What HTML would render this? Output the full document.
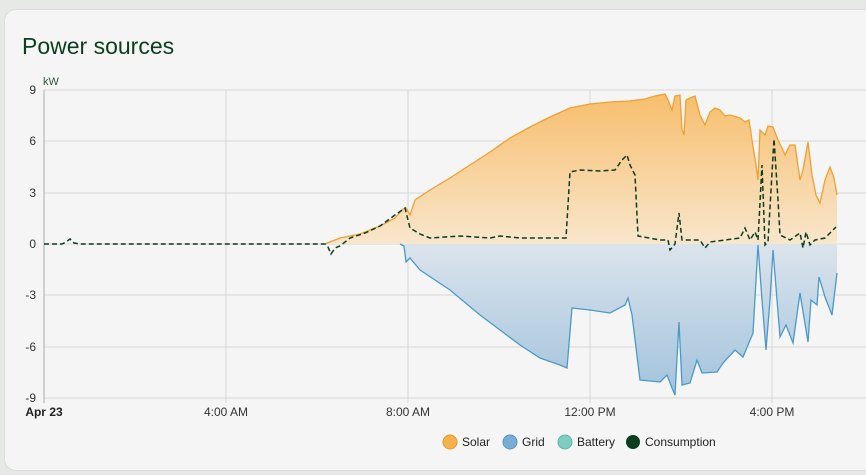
<!DOCTYPE html>
<html><head><style>
body{margin:0;background:#e6e9e6;width:866px;height:475px;overflow:hidden;font-family:"Liberation Sans",sans-serif}
.card{position:absolute;left:4px;top:9px;width:880px;height:460px;background:#f5f5f5;border-radius:12px;border:1px solid #dcdcdc}
</style></head><body>
<div class="card"></div>
<svg width="866" height="475" style="position:absolute;left:0;top:0" font-family="Liberation Sans, sans-serif">
<defs>
<linearGradient id="gs" x1="0" y1="90" x2="0" y2="244" gradientUnits="userSpaceOnUse"><stop offset="0" stop-color="#f7bd6a"/><stop offset="1" stop-color="#f8e6cc"/></linearGradient>
<linearGradient id="gg" x1="0" y1="244" x2="0" y2="398" gradientUnits="userSpaceOnUse"><stop offset="0" stop-color="#dbe4ec"/><stop offset="1" stop-color="#a1c2dc"/></linearGradient>
</defs>
<text x="22" y="54" font-size="23" fill="#0b3d1e">Power sources</text>
<text x="43" y="85" font-size="11" fill="#2d5a3a">kW</text>
<g stroke="#d6d6d6" stroke-width="1">
<line x1="44" y1="90" x2="866" y2="90"/><line x1="44" y1="141" x2="866" y2="141"/><line x1="44" y1="193" x2="866" y2="193"/><line x1="44" y1="244" x2="866" y2="244"/><line x1="44" y1="295" x2="866" y2="295"/><line x1="44" y1="347" x2="866" y2="347"/><line x1="44" y1="398" x2="866" y2="398"/>
<line x1="226" y1="90" x2="226" y2="403"/><line x1="408" y1="90" x2="408" y2="403"/><line x1="590" y1="90" x2="590" y2="403"/><line x1="772" y1="90" x2="772" y2="403"/>
</g>
<line x1="44" y1="90" x2="44" y2="403" stroke="#aaa"/>
<g font-size="12" fill="#333" text-anchor="end">
<text x="36" y="94">9</text><text x="36" y="145">6</text><text x="36" y="197">3</text><text x="36" y="248">0</text><text x="36" y="299">-3</text><text x="36" y="351">-6</text><text x="36" y="402">-9</text>
</g>
<g font-size="12" fill="#333" text-anchor="middle">
<text x="44" y="416" font-weight="bold" fill="#222">Apr 23</text><text x="226" y="416">4:00 AM</text><text x="408" y="416">8:00 AM</text><text x="590" y="416">12:00 PM</text><text x="772" y="416">4:00 PM</text>
</g>
<path d="M325,244 L340,238 360,234 380,226 395,218 403,209 406,208 410,215 415,200 430,190 450,178 470,165 490,152 510,138 530,127 550,117 570,108 590,104 610,102 630,101 645,99 655,96 665,94 668,100 672,110 675,96 680,95 682,130 684,135 686,100 690,98 695,96 700,115 705,125 710,112 715,108 720,110 725,116 730,115 740,118 745,122 749,120 752,140 756,165 758,180 760,130 765,135 768,126 773,127 778,140 782,148 785,155 790,145 795,145 800,180 803,170 808,142 812,175 816,195 820,203 825,180 830,167 834,178 837,195 L837,244 Z" fill="url(#gs)"/>
<path d="M325,244 L340,238 360,234 380,226 395,218 403,209 406,208 410,215 415,200 430,190 450,178 470,165 490,152 510,138 530,127 550,117 570,108 590,104 610,102 630,101 645,99 655,96 665,94 668,100 672,110 675,96 680,95 682,130 684,135 686,100 690,98 695,96 700,115 705,125 710,112 715,108 720,110 725,116 730,115 740,118 745,122 749,120 752,140 756,165 758,180 760,130 765,135 768,126 773,127 778,140 782,148 785,155 790,145 795,145 800,180 803,170 808,142 812,175 816,195 820,203 825,180 830,167 834,178 837,195" fill="none" stroke="#f0a030" stroke-width="1.3"/>
<path d="M400,244 L404,246 406,262 410,258 420,270 450,290 480,315 500,330 520,345 540,358 560,365 567,368 572,308 590,310 610,313 625,305 628,298 632,315 640,380 660,382 667,375 672,388 675,395 679,322 682,385 690,383 697,360 702,373 717,372 723,363 735,350 743,357 753,333 758,245 762,300 766,350 770,300 773,250 780,337 786,325 793,343 800,293 808,342 811,300 817,305 819,277 825,297 832,315 837,273 L837,244 Z" fill="url(#gg)"/>
<path d="M400,244 L404,246 406,262 410,258 420,270 450,290 480,315 500,330 520,345 540,358 560,365 567,368 572,308 590,310 610,313 625,305 628,298 632,315 640,380 660,382 667,375 672,388 675,395 679,322 682,385 690,383 697,360 702,373 717,372 723,363 735,350 743,357 753,333 758,245 762,300 766,350 770,300 773,250 780,337 786,325 793,343 800,293 808,342 811,300 817,305 819,277 825,297 832,315 837,273" fill="none" stroke="#4a9ac8" stroke-width="1.3"/>
<path d="M44,244 L62,244 66,242 70,239 74,243 80,244 325,244 L328,247 331,254 335,248 340,246 350,238 365,233 380,226 395,215 405,208 410,228 420,234 430,238 460,236 490,238 500,236 520,238 566,238 570,172 580,170 600,171 615,170 622,160 627,155 630,165 635,175 638,236 660,240 668,240 670,250 675,244 679,213 682,240 700,240 705,248 710,242 740,238 745,228 750,240 755,232 758,240 762,165 765,245 768,242 774,139 778,200 780,235 790,240 800,233 803,248 806,232 810,245 815,240 825,238 836,227" fill="none" stroke="#0b3d1e" stroke-width="1.5" stroke-dasharray="5,3"/>
<g font-size="12" fill="#222">
<circle cx="450" cy="442" r="7" fill="#f7b04a" stroke="#e09a30"/><text x="462" y="446">Solar</text>
<circle cx="510" cy="442" r="7" fill="#79acd6" stroke="#5a93c0"/><text x="522" y="446">Grid</text>
<circle cx="565" cy="442" r="7" fill="#7ecdc0" stroke="#5fb5a8"/><text x="577" y="446">Battery</text>
<circle cx="633" cy="442" r="7" fill="#0b3d1e"/><text x="645" y="446">Consumption</text>
</g>
</svg>
</body></html>
